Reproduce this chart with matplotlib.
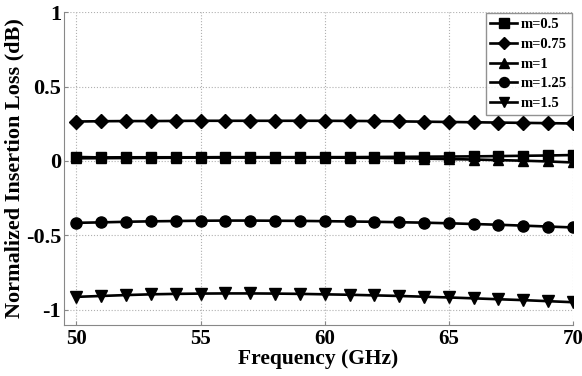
import matplotlib
matplotlib.use("Agg")
import matplotlib.pyplot as plt

freq = [50, 51, 52, 53, 54, 55, 56, 57, 58, 59, 60, 61, 62, 63, 64, 65, 66, 67, 68, 69, 70]
m050 = [0.027, 0.024, 0.025, 0.025, 0.025, 0.025, 0.026, 0.026, 0.026, 0.026, 0.026, 0.026, 0.027, 0.028, 0.029, 0.030, 0.031, 0.033, 0.035, 0.037, 0.040]
m075 = [0.265, 0.267, 0.268, 0.268, 0.269, 0.270, 0.270, 0.270, 0.270, 0.270, 0.270, 0.269, 0.268, 0.266, 0.264, 0.262, 0.260, 0.258, 0.256, 0.254, 0.252]
m100 = [0.018, 0.019, 0.020, 0.021, 0.022, 0.023, 0.023, 0.023, 0.023, 0.023, 0.023, 0.022, 0.021, 0.019, 0.016, 0.013, 0.010, 0.006, 0.002, -0.003, -0.010]
m125 = [-0.415, -0.412, -0.408, -0.405, -0.403, -0.401, -0.400, -0.400, -0.401, -0.402, -0.404, -0.406, -0.408, -0.411, -0.414, -0.418, -0.423, -0.428, -0.434, -0.440, -0.446]
m150 = [-0.912, -0.906, -0.900, -0.895, -0.892, -0.890, -0.889, -0.889, -0.890, -0.892, -0.895, -0.898, -0.902, -0.906, -0.911, -0.916, -0.922, -0.928, -0.934, -0.941, -0.948]

labels = ["m=0.5", "m=0.75", "m=1", "m=1.25", "m=1.5"]
series = [m050, m075, m100, m125, m150]
markers = ["s", "D", "^", "o", "v"]
msizes = [7.5, 7, 7.5, 8, 8]

xticks = [50, 55, 60, 65, 70]
yticks = [-1, -0.5, 0, 0.5, 1]
yticklabels = ["-1", "-0.5", "0", "0.5", "1"]

plt.rcParams['font.family'] = ['Liberation Serif', 'DejaVu Serif']
plt.rcParams['font.weight'] = 'bold'

fig = plt.figure(figsize=(5.82, 3.76), dpi=100)
ax = fig.add_axes([0.110, 0.136, 0.8745, 0.832])

for y, lab, mk, ms in zip(series, labels, markers, msizes):
    ax.plot(freq, y, color='black', lw=1.9, marker=mk, markersize=ms, label=lab)

ax.set_xlim(49.5, 70)
ax.set_ylim(-1.1, 1)
ax.set_xticks(xticks)
ax.set_yticks(yticks)
ax.set_yticklabels(yticklabels)
ax.grid(True, linestyle=':', color='#b0b0b0', lw=0.8)
ax.tick_params(axis='y', labelsize=16, length=3, color='#888888', direction='in', pad=2)
ax.tick_params(axis='x', labelsize=15, length=3, color='#888888', direction='in', pad=3)
for t in ax.get_xticklabels() + ax.get_yticklabels():
    t.set_fontweight('bold')
for s in ax.spines.values():
    s.set_color('#888888')
    s.set_linewidth(0.8)
ax.spines['top'].set_visible(False)
ax.spines['right'].set_visible(False)

ax.set_xlabel("Frequency (GHz)", fontsize=15.5, fontweight='bold', labelpad=0)
ax.set_ylabel("Normalized Insertion Loss (dB)", fontsize=16, fontweight='bold', labelpad=1)

leg = ax.legend(loc='upper right', fontsize=10.5, frameon=True, fancybox=False,
                handlelength=1.8, handletextpad=0.3, borderpad=0.3, labelspacing=0.45,
                borderaxespad=0.1, markerscale=0.9, prop={'weight': 'bold', 'size': 10.5})
leg.get_frame().set_edgecolor('#777777')
leg.get_frame().set_linewidth(1.0)

fig.savefig("out.png", dpi=100)
